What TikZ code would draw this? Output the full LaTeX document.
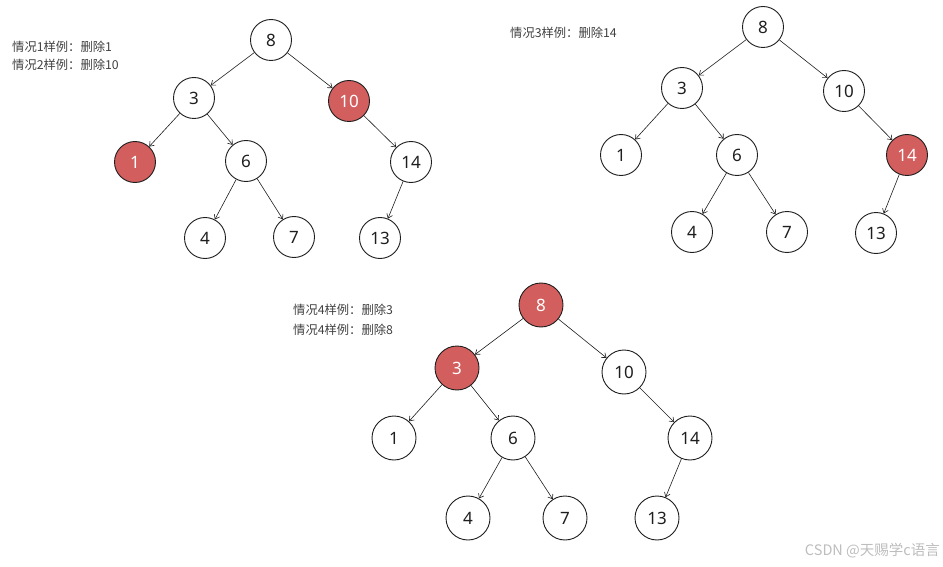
\documentclass[tikz,border=0pt]{standalone}
\usepackage{fontspec}
\setmainfont{Noto Sans}
\newfontfamily\cjk{Noto Sans CJK SC}
\usetikzlibrary{arrows.meta}
\definecolor{hotred}{HTML}{D35E5E}
\definecolor{ink}{HTML}{1E1E1E}
\definecolor{wmark}{HTML}{BDBDBD}

\begin{document}
\begin{tikzpicture}[
  x=1pt,y=-1pt,>={Straight Barb[length=4pt,width=6pt]},
  nd/.style={draw=ink, line width=0.9pt, circle, fill=white, minimum size=41pt, inner sep=0pt, font=\fontsize{17}{17}\selectfont, text=ink},
  hot/.style={nd, fill=hotred, text=white},
  lbl/.style={anchor=west, inner sep=0pt, font=\cjk\fontsize{12.3}{13}\selectfont, text=ink!85},
  edge/.style={->, draw=ink, semithick},
]
\useasboundingbox (0,0) rectangle (943,567);
% case 1 / 2 tree (left)
\node[lbl] (n1) at (12,47) {情况1样例：删除1};
\node[lbl] (n2) at (12,65) {情况2样例：删除10};
\node[nd] (a8) at (271,40) {8};
\node[nd] (a3) at (194,98) {3};
\node[hot] (a10) at (349,101) {10};
\node[hot] (a1) at (135,162) {1};
\node[nd] (a6) at (246,161) {6};
\node[nd] (a14) at (411,162) {14};
\node[nd] (a4) at (205,238) {4};
\node[nd] (a7) at (294,237) {7};
\node[nd] (a13) at (380,238) {13};
\draw[edge] (a8) -- (a3);
\draw[edge] (a8) -- (a10);
\draw[edge] (a3) -- (a1);
\draw[edge] (a3) -- (a6);
\draw[edge] (a10) -- (a14);
\draw[edge] (a6) -- (a4);
\draw[edge] (a6) -- (a7);
\draw[edge] (a14) -- (a13);
% case 3 tree (right)
\node[lbl] (n3) at (510,33) {情况3样例：删除14};
\node[nd] (b8) at (763,27) {8};
\node[nd] (b3) at (682,88) {3};
\node[nd] (b10) at (844,91) {10};
\node[nd] (b1) at (621,155) {1};
\node[nd] (b6) at (737,155) {6};
\node[hot] (b14) at (907,155) {14};
\node[nd] (b4) at (692,232) {4};
\node[nd] (b7) at (787,232) {7};
\node[nd] (b13) at (876,233) {13};
\draw[edge] (b8) -- (b3);
\draw[edge] (b8) -- (b10);
\draw[edge] (b3) -- (b1);
\draw[edge] (b3) -- (b6);
\draw[edge] (b10) -- (b14);
\draw[edge] (b6) -- (b4);
\draw[edge] (b6) -- (b7);
\draw[edge] (b14) -- (b13);
% case 4 tree (bottom)
\node[lbl] (n4) at (293,310) {情况4样例：删除3};
\node[lbl] (n5) at (293,330) {情况4样例：删除8};
\node[hot,minimum size=44pt] (c8) at (541,305) {8};
\node[hot,minimum size=44pt] (c3) at (457,368) {3};
\node[nd,minimum size=44pt] (c10) at (624,372) {10};
\node[nd,minimum size=44pt] (c1) at (394,438) {1};
\node[nd,minimum size=44pt] (c6) at (513,438) {6};
\node[nd,minimum size=44pt] (c14) at (690,438) {14};
\node[nd,minimum size=44pt] (c4) at (468,518) {4};
\node[nd,minimum size=44pt] (c7) at (565,518) {7};
\node[nd,minimum size=44pt] (c13) at (657,518) {13};
\draw[edge] (c8) -- (c3);
\draw[edge] (c8) -- (c10);
\draw[edge] (c3) -- (c1);
\draw[edge] (c3) -- (c6);
\draw[edge] (c10) -- (c14);
\draw[edge] (c6) -- (c4);
\draw[edge] (c6) -- (c7);
\draw[edge] (c14) -- (c13);
% watermark
\node[anchor=east, inner sep=0pt, text=wmark, font=\cjk\fontsize{14.5}{15}\selectfont] (wm) at (940,551) {CSDN @天赐学c语言};
\end{tikzpicture}
\end{document}
